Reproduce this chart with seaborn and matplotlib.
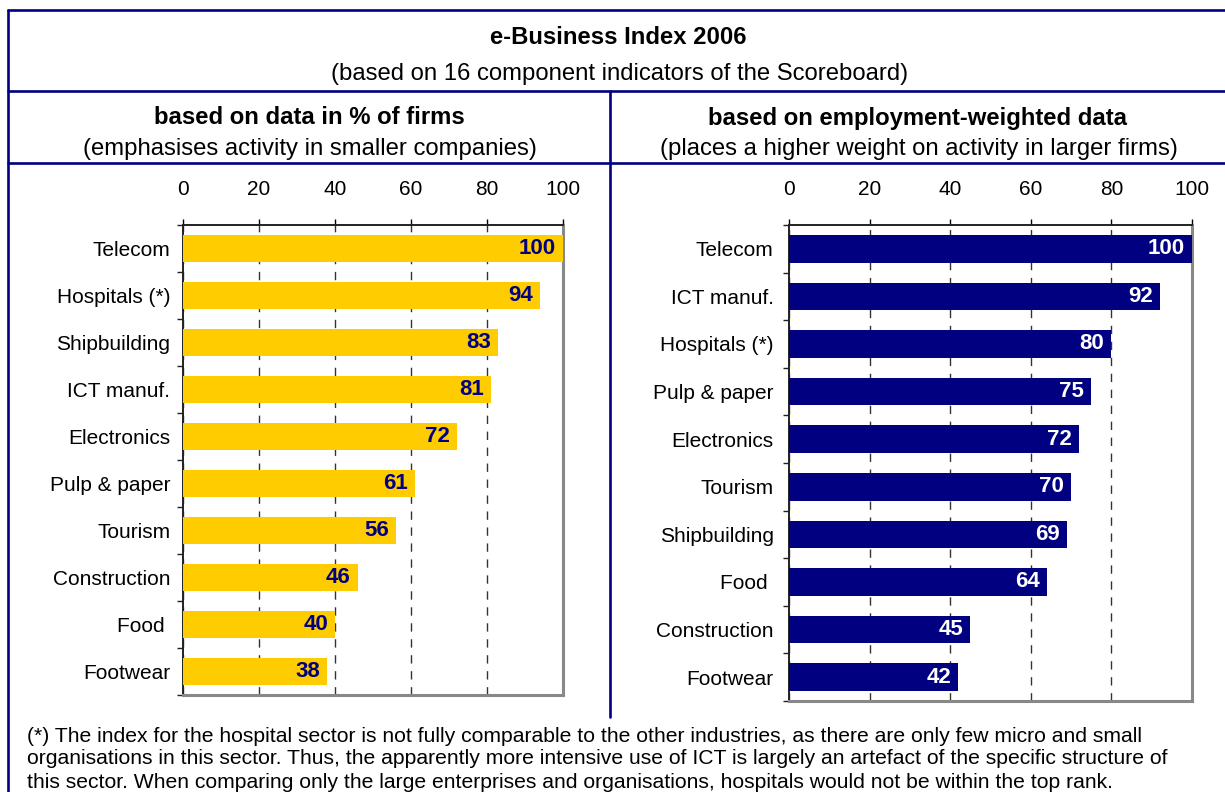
import matplotlib
matplotlib.use("Agg")
import matplotlib.pyplot as plt
from matplotlib.lines import Line2D
from matplotlib.ticker import FixedLocator
import seaborn as sns
import pandas as pd

# Index values per sector, panel by panel
firms_sectors = ["Telecom", "Hospitals (*)", "Shipbuilding", "ICT manuf.", "Electronics",
                 "Pulp & paper", "Tourism", "Construction", "Food ", "Footwear"]
firms_values = [100, 94, 83, 81, 72, 61, 56, 46, 40, 38]

empl_sectors = ["Telecom", "ICT manuf.", "Hospitals (*)", "Pulp & paper", "Electronics",
                "Tourism", "Shipbuilding", "Food ", "Construction", "Footwear"]
empl_values = [100, 92, 80, 75, 72, 70, 69, 64, 45, 42]

x_ticks = [0, 20, 40, 60, 80, 100]

title = "e-Business Index 2006"
subtitle = "(based on 16 component indicators of the Scoreboard)"
left_head = "based on data in % of firms"
left_sub = "(emphasises activity in smaller companies)"
right_head = "based on employment-weighted data"
right_sub = "(places a higher weight on activity in larger firms)"
footnote = [
    "(*) The index for the hospital sector is not fully comparable to the other industries, as there are only few micro and small",
    "organisations in this sector. Thus, the apparently more intensive use of ICT is largely an artefact of the specific structure of",
    "this sector. When comparing only the large enterprises and organisations, hospitals would not be within the top rank.",
]

sns.set_theme(style="white")
plt.rcParams["font.family"] = ["Liberation Sans", "DejaVu Sans"]
plt.rcParams["lines.scale_dashes"] = False
plt.rcParams["text.color"] = "black"
plt.rcParams["xtick.color"] = "black"
plt.rcParams["ytick.color"] = "black"

W, H = 1225, 792
fig = plt.figure(figsize=(W / 100, H / 100), dpi=100)
fig.patch.set_facecolor("white")

NAVY = "#000080"
YELLOW = "#FFCC00"
HEAD_FS = 17.2


def fx(px):
    return px / W


def fy(py):
    return 1 - py / H


def hline(y, x0, x1):
    fig.add_artist(Line2D([fx(x0), fx(x1)], [fy(y), fy(y)], color=NAVY, lw=1.9,
                          transform=fig.transFigure))


def vline(x, y0, y1):
    fig.add_artist(Line2D([fx(x), fx(x)], [fy(y0), fy(y1)], color=NAVY, lw=1.9,
                          transform=fig.transFigure))


# Table frame
hline(10, 8, W)
hline(91, 8, W)
hline(163, 8, W)
vline(8, 10, H)
vline(610, 91, 717)

fig.text(fx(618), fy(37), title, ha="center", va="center", fontsize=HEAD_FS, fontweight="bold")
fig.text(fx(620), fy(74), subtitle, ha="center", va="center", fontsize=HEAD_FS)
fig.text(fx(309), fy(118), left_head, ha="center", va="center", fontsize=HEAD_FS, fontweight="bold")
fig.text(fx(310), fy(149), left_sub, ha="center", va="center", fontsize=HEAD_FS)
fig.text(fx(918), fy(118), right_head, ha="center", va="center", fontsize=HEAD_FS, fontweight="bold")
fig.text(fx(919), fy(149), right_sub, ha="center", va="center", fontsize=HEAD_FS)

for i, line in enumerate(footnote):
    fig.text(fx(27), fy(736 + i * 23), line, ha="left", va="center", fontsize=15.2)


def panel(rect, sectors, values, bar_color, label_color, ylab_pad):
    x0, y0, x1, y1 = rect
    ax = fig.add_axes([fx(x0), fy(y1), fx(x1 - x0), (y1 - y0) / H])
    df = pd.DataFrame({"sector": sectors, "value": values})
    sns.barplot(data=df, x="value", y="sector", order=sectors, color=bar_color,
                saturation=1, width=0.58, ax=ax, zorder=3)
    for p in ax.patches:
        p.set_edgecolor("none")
    ax.set_xlim(0, 100)
    ax.set_ylim(len(sectors) - 0.5, -0.5)
    ax.set_xlabel("")
    ax.set_ylabel("")

    ax.xaxis.tick_top()
    ax.set_xticks(x_ticks)
    ax.set_xticklabels([str(t) for t in x_ticks])
    ax.tick_params(axis="x", which="major", direction="out", length=4.5, width=1,
                   color="black", labelsize=15, pad=14, top=True, bottom=False)

    ax.yaxis.set_minor_locator(FixedLocator([k - 0.5 for k in range(len(sectors) + 1)]))
    ax.tick_params(axis="y", which="major", length=0, labelsize=15, pad=ylab_pad, left=True)
    ax.tick_params(axis="y", which="minor", direction="out", length=4.5, width=1,
                   color="#222222", left=True)

    ax.grid(axis="x", which="major", color="#333333", lw=1, linestyle=(0, (6, 5.5)), zorder=0)
    ax.grid(axis="y", visible=False)
    ax.set_axisbelow(True)

    for side in ["left", "top"]:
        ax.spines[side].set_visible(True)
        ax.spines[side].set_color("#222222")
        ax.spines[side].set_linewidth(1.4)
    for side in ["right", "bottom"]:
        ax.spines[side].set_visible(True)
        ax.spines[side].set_color("#888888")
        ax.spines[side].set_linewidth(2.2)

    for i, v in enumerate(values):
        ax.annotate(str(v), xy=(v, i), xytext=(-5, 0), textcoords="offset points",
                    ha="right", va="center", fontsize=16, fontweight="bold",
                    color=label_color, zorder=4)
    return ax


panel((183, 225, 563, 695), firms_sectors, firms_values, YELLOW, NAVY, 9)
panel((789, 225, 1192, 701), empl_sectors, empl_values, NAVY, "white", 11)

fig.savefig("out.png", dpi=100, facecolor="white")
